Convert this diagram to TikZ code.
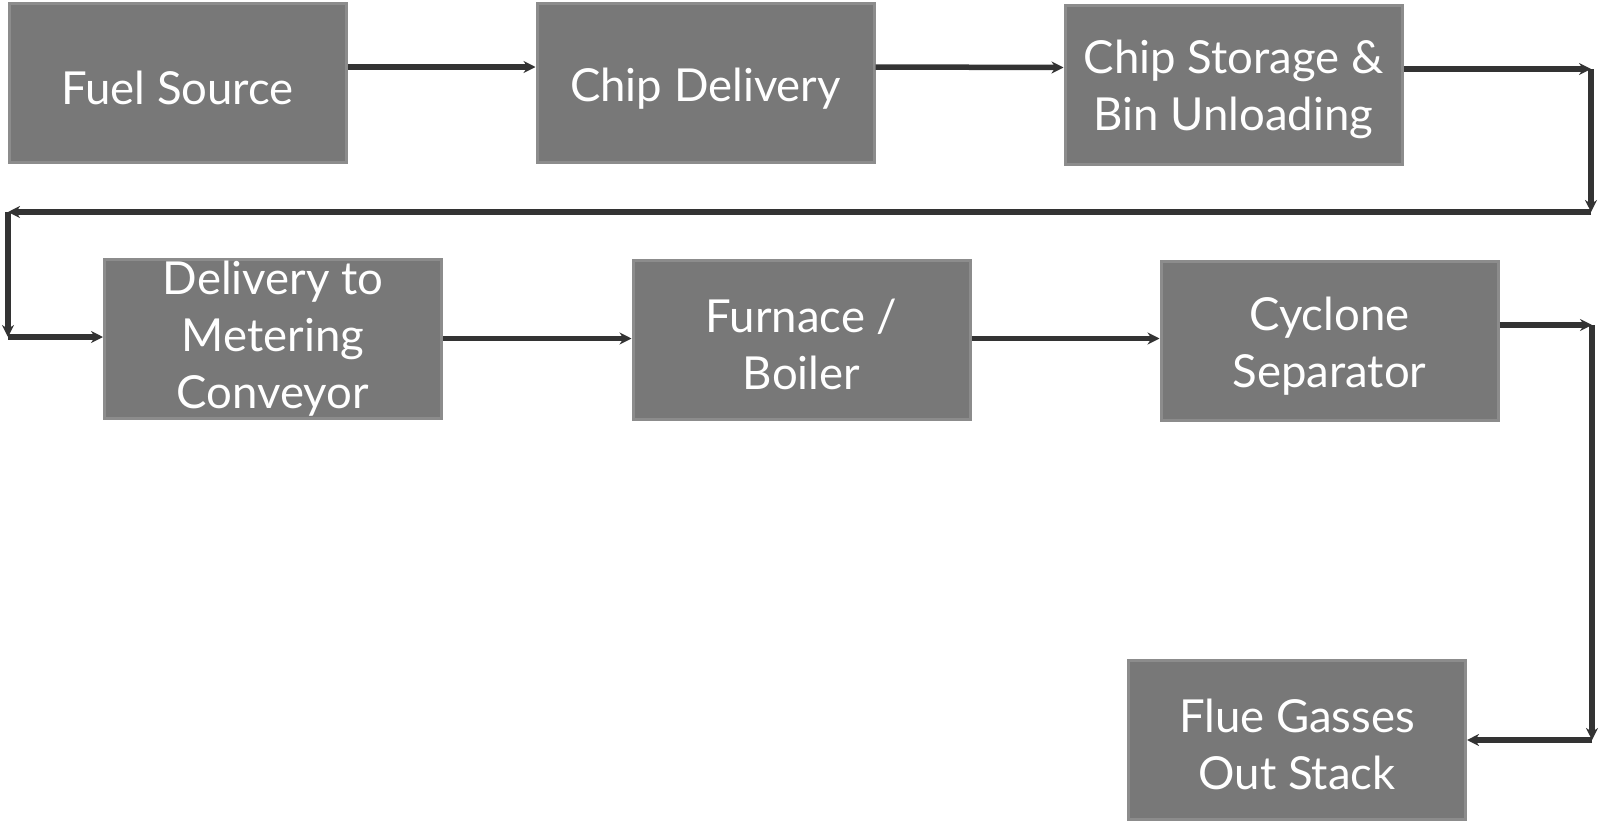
\documentclass[tikz,border=0pt]{standalone}
\usepackage{fontspec}
\setmainfont{Lato}
\usetikzlibrary{arrows.meta}
\definecolor{boxfill}{HTML}{787878}
\definecolor{boxline}{HTML}{8C8C8C}
\definecolor{arrowc}{HTML}{333333}
\newcommand{\topstrut}{\rule{0pt}{44pt}}
\newcommand{\botstrut}{\rule[-1pt]{0pt}{1pt}}
\tikzset{
  procbox/.style={draw=boxline, line width=3pt, fill=boxfill, minimum width=337pt, minimum height=159pt,
    inner sep=0pt, text=white, align=center, font=\fontsize{45.5}{57}\selectfont},
  flow/.style={draw=arrowc, line width=5.5pt, -{Stealth[length=12pt,width=12pt]}},
}
\begin{document}
\begin{tikzpicture}[x=1pt,y=-1pt]
\useasboundingbox (0,0) rectangle (1603,822);
\node[procbox] (B1) at (177.5,83) {\topstrut Fuel Source\botstrut};
\node[procbox] (B2) at (705.5,83) {\topstrut Chip Delivery\botstrut};
\node[procbox] (B3) at (1233.5,84.5) {\topstrut Chip Storage \&\\Bin Unloading\botstrut};
\node[procbox] (B4) at (273,338.5) {Delivery to\\Metering\\Conveyor};
\node[procbox] (B5) at (801.5,339.5) {\topstrut Furnace /\\Boiler\botstrut};
\node[procbox] (B6) at (1329.5,341) {\topstrut Cyclone\\Separator\botstrut};
\node[procbox] (B7) at (1297,739.5) {\topstrut Flue Gasses\\Out Stack\botstrut};
\coordinate (c1) at (1591,69);
\coordinate (c2) at (1591,212);
\coordinate (c3) at (8,212);
\coordinate (c4) at (8,337);
\coordinate (c5) at (1592,325);
\coordinate (c6) at (1592,740);
\draw[flow] ([yshift=16pt]B1.east) -- ([yshift=16pt]B2.west);
\draw[flow] ([yshift=16pt]B2.east) -- ([yshift=17pt]B3.west);
\draw[flow] ([yshift=15.5pt]B3.east) -- (c1);
\draw[flow] (c1) -- (c2);
\draw[flow] (c2) -- (c3);
\draw[flow] (c3) -- (c4);
\draw[flow] (c4) -- (c4 -| B4.west);
\draw[flow] (B4.east) -- (B4.east -| B5.west);
\draw[flow] ([yshift=1pt]B5.east) -- ([yshift=1pt]B5.east -| B6.west);
\draw[flow] ([yshift=16pt]B6.east) -- (c5);
\draw[flow] (c5) -- (c6);
\draw[flow] (c6) -- (c6 -| B7.east);
\end{tikzpicture}
\end{document}
